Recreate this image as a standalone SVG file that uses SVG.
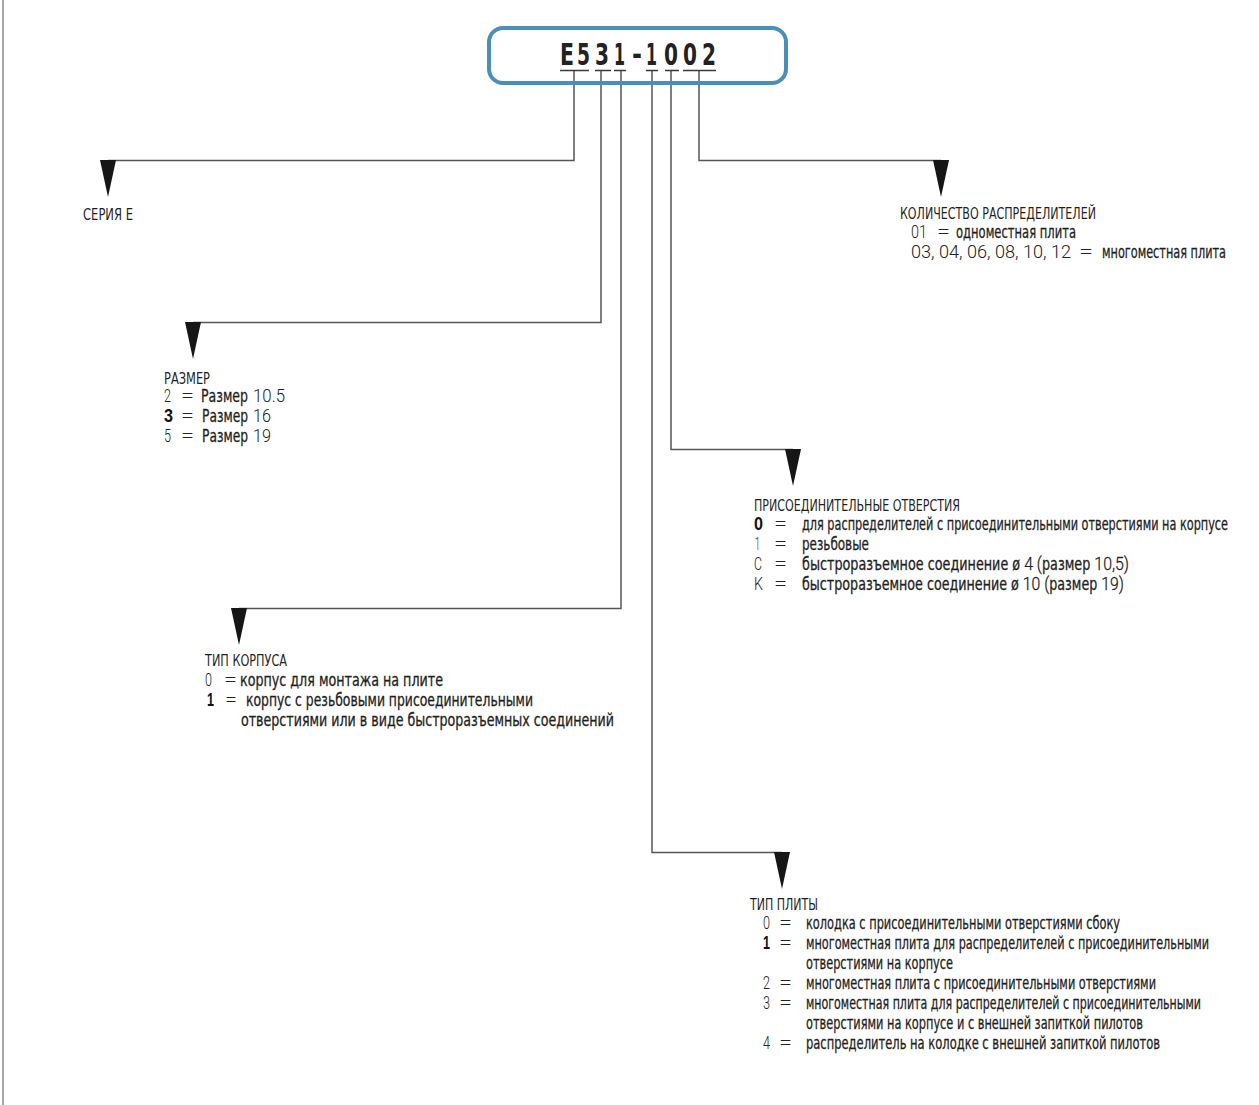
<svg xmlns="http://www.w3.org/2000/svg" width="1259" height="1105" viewBox="0 0 1259 1105">
<style>
text{font-family:'Liberation Sans Narrow','DejaVu Sans Condensed','Liberation Sans',sans-serif;fill:#1f1f1f}
.h{font-size:16px}
.d{font-size:17px;stroke:#1f1f1f;stroke-width:0.3}
.n{font-family:Roboto,'Liberation Sans',sans-serif;font-weight:300;font-size:19px;fill:#222}
.b{font-family:'Liberation Sans Narrow','Liberation Sans',sans-serif;font-weight:bold;font-size:19px;fill:#111}
.t{font-weight:bold;font-size:30px;fill:#222}
.c{fill:none;stroke:#3a3a3a;stroke-width:1.5}
.v{fill:none;stroke:#555;stroke-width:1.5}
.a{fill:#161616}
</style>
<line x1="3" y1="0" x2="3" y2="1105" stroke="#8a8a8a" stroke-width="1.5"/>
<g id="connectors">
<path class="v" d="M574,70V160.5H108"/>
<path class="v" d="M601,70V322.5H193"/>
<path class="v" d="M621,70V608.5H239"/>
<path class="v" d="M652,70V852.5H782"/>
<path class="v" d="M671,70V449.5H793"/>
<path class="v" d="M699,70V160.5H941"/>
<polygon class="a" points="100,160 116,160 108,197"/>
<polygon class="a" points="185,322 201,322 193,359"/>
<polygon class="a" points="231,608 247,608 239,645"/>
<polygon class="a" points="774,852 790,852 782,889"/>
<polygon class="a" points="785,449 801,449 793,486"/>
<polygon class="a" points="933,160 949,160 941,197"/>
</g>
<g id="title">
<rect x="489" y="28" width="297" height="55" rx="14" fill="none" stroke="#4a90b6" stroke-width="4"/>
<text class="t" x="560" y="65" textLength="14" lengthAdjust="spacingAndGlyphs">E</text>
<text class="t" x="577" y="65" textLength="13" lengthAdjust="spacingAndGlyphs">5</text>
<text class="t" x="595" y="65" textLength="14" lengthAdjust="spacingAndGlyphs">3</text>
<text class="t" x="614" y="65" textLength="11" lengthAdjust="spacingAndGlyphs">1</text>
<text class="t" x="632" y="65" textLength="10" lengthAdjust="spacingAndGlyphs">-</text>
<text class="t" x="646" y="65" textLength="11" lengthAdjust="spacingAndGlyphs">1</text>
<text class="t" x="664" y="65" textLength="14" lengthAdjust="spacingAndGlyphs">0</text>
<text class="t" x="683" y="65" textLength="14" lengthAdjust="spacingAndGlyphs">0</text>
<text class="t" x="702" y="65" textLength="14" lengthAdjust="spacingAndGlyphs">2</text>
<path class="c" d="M560,70.5H589M595,70.5H611M614,70.5H626M646,70.5H658M665,70.5H679M683,70.5H716"/>
</g>
<g id="series">
<text class="h" x="83" y="220" textLength="50" lengthAdjust="spacingAndGlyphs">СЕРИЯ E</text>
</g>
<g id="size">
<text class="h" x="164" y="384" textLength="46" lengthAdjust="spacingAndGlyphs">РАЗМЕР</text>
<text class="n" x="164" y="402" textLength="7" lengthAdjust="spacingAndGlyphs">2</text>
<text class="n" x="181" y="402" textLength="13" lengthAdjust="spacingAndGlyphs">=</text>
<text class="d" x="201" y="402" textLength="47" lengthAdjust="spacingAndGlyphs">Размер</text>
<text class="n" x="253" y="402" textLength="32" lengthAdjust="spacingAndGlyphs">10.5</text>
<text class="b" x="164" y="422" textLength="9" lengthAdjust="spacingAndGlyphs">3</text>
<text class="n" x="181" y="422" textLength="13" lengthAdjust="spacingAndGlyphs">=</text>
<text class="d" x="202" y="422" textLength="46" lengthAdjust="spacingAndGlyphs">Размер</text>
<text class="n" x="253" y="422" textLength="18" lengthAdjust="spacingAndGlyphs">16</text>
<text class="n" x="164" y="442" textLength="7" lengthAdjust="spacingAndGlyphs">5</text>
<text class="n" x="181" y="442" textLength="13" lengthAdjust="spacingAndGlyphs">=</text>
<text class="d" x="202" y="442" textLength="46" lengthAdjust="spacingAndGlyphs">Размер</text>
<text class="n" x="253" y="442" textLength="18" lengthAdjust="spacingAndGlyphs">19</text>
</g>
<g id="count">
<text class="h" x="900" y="219" textLength="196" lengthAdjust="spacingAndGlyphs">КОЛИЧЕСТВО РАСПРЕДЕЛИТЕЛЕЙ</text>
<text class="n" x="911" y="238" textLength="16" lengthAdjust="spacingAndGlyphs">01</text>
<text class="n" x="937" y="238" textLength="13" lengthAdjust="spacingAndGlyphs">=</text>
<text class="d" x="956" y="238" textLength="120" lengthAdjust="spacingAndGlyphs">одноместная плита</text>
<text class="n" x="911" y="258" textLength="160" lengthAdjust="spacingAndGlyphs">03, 04, 06, 08, 10, 12</text>
<text class="n" x="1079" y="258" textLength="14" lengthAdjust="spacingAndGlyphs">=</text>
<text class="d" x="1102" y="258" textLength="124" lengthAdjust="spacingAndGlyphs">многоместная плита</text>
</g>
<g id="ports">
<text class="h" x="754" y="511" textLength="206" lengthAdjust="spacingAndGlyphs">ПРИСОЕДИНИТЕЛЬНЫЕ ОТВЕРСТИЯ</text>
<text class="b" x="754" y="530" textLength="9" lengthAdjust="spacingAndGlyphs">0</text>
<text class="n" x="774" y="530" textLength="13" lengthAdjust="spacingAndGlyphs">=</text>
<text class="d" x="802" y="530" textLength="426" lengthAdjust="spacingAndGlyphs">для распределителей с присоединительными отверстиями на корпусе</text>
<text class="n" x="755" y="550" textLength="5" lengthAdjust="spacingAndGlyphs">1</text>
<text class="n" x="774" y="550" textLength="13" lengthAdjust="spacingAndGlyphs">=</text>
<text class="d" x="802" y="550" textLength="67" lengthAdjust="spacingAndGlyphs">резьбовые</text>
<text class="n" x="754" y="570" textLength="8" lengthAdjust="spacingAndGlyphs">C</text>
<text class="n" x="774" y="570" textLength="13" lengthAdjust="spacingAndGlyphs">=</text>
<text class="d" x="802" y="570" textLength="327" lengthAdjust="spacingAndGlyphs">быстроразъемное соединение ø <tspan class="n">4 (</tspan>размер <tspan class="n">10,5)</tspan></text>
<text class="n" x="754" y="590" textLength="9" lengthAdjust="spacingAndGlyphs">K</text>
<text class="n" x="774" y="590" textLength="13" lengthAdjust="spacingAndGlyphs">=</text>
<text class="d" x="802" y="590" textLength="322" lengthAdjust="spacingAndGlyphs">быстроразъемное соединение ø <tspan class="n">10 (</tspan>размер <tspan class="n">19)</tspan></text>
</g>
<g id="body">
<text class="h" x="205" y="666" textLength="82" lengthAdjust="spacingAndGlyphs">ТИП КОРПУСА</text>
<text class="n" x="205" y="686" textLength="7" lengthAdjust="spacingAndGlyphs">0</text>
<text class="n" x="224" y="686" textLength="13" lengthAdjust="spacingAndGlyphs">=</text>
<text class="d" x="240" y="686" textLength="203" lengthAdjust="spacingAndGlyphs">корпус для монтажа на плите</text>
<text class="b" x="207" y="706" textLength="7" lengthAdjust="spacingAndGlyphs">1</text>
<text class="n" x="225" y="706" textLength="12" lengthAdjust="spacingAndGlyphs">=</text>
<text class="d" x="246" y="706" textLength="287" lengthAdjust="spacingAndGlyphs">корпус с резьбовыми присоединительными</text>
<text class="d" x="241" y="726" textLength="373" lengthAdjust="spacingAndGlyphs">отверстиями или в виде быстроразъемных соединений</text>
</g>
<g id="plate">
<text class="h" x="750" y="910" textLength="68" lengthAdjust="spacingAndGlyphs">ТИП ПЛИТЫ</text>
<text class="n" x="763" y="929" textLength="7" lengthAdjust="spacingAndGlyphs">0</text>
<text class="n" x="779" y="929" textLength="13" lengthAdjust="spacingAndGlyphs">=</text>
<text class="d" x="806" y="929" textLength="314" lengthAdjust="spacingAndGlyphs">колодка с присоединительными отверстиями сбоку</text>
<text class="b" x="763" y="949" textLength="7" lengthAdjust="spacingAndGlyphs">1</text>
<text class="n" x="779" y="949" textLength="13" lengthAdjust="spacingAndGlyphs">=</text>
<text class="d" x="806" y="949" textLength="403" lengthAdjust="spacingAndGlyphs">многоместная плита для распределителей с присоединительными</text>
<text class="d" x="806" y="969" textLength="147" lengthAdjust="spacingAndGlyphs">отверстиями на корпусе</text>
<text class="n" x="763" y="989" textLength="7" lengthAdjust="spacingAndGlyphs">2</text>
<text class="n" x="779" y="989" textLength="13" lengthAdjust="spacingAndGlyphs">=</text>
<text class="d" x="806" y="989" textLength="350" lengthAdjust="spacingAndGlyphs">многоместная плита с присоединительными отверстиями</text>
<text class="n" x="763" y="1009" textLength="7" lengthAdjust="spacingAndGlyphs">3</text>
<text class="n" x="779" y="1009" textLength="13" lengthAdjust="spacingAndGlyphs">=</text>
<text class="d" x="806" y="1009" textLength="395" lengthAdjust="spacingAndGlyphs">многоместная плита для распределителей с присоединительными</text>
<text class="d" x="806" y="1029" textLength="337" lengthAdjust="spacingAndGlyphs">отверстиями на корпусе и с внешней запиткой пилотов</text>
<text class="n" x="763" y="1049" textLength="7" lengthAdjust="spacingAndGlyphs">4</text>
<text class="n" x="779" y="1049" textLength="13" lengthAdjust="spacingAndGlyphs">=</text>
<text class="d" x="806" y="1049" textLength="354" lengthAdjust="spacingAndGlyphs">распределитель на колодке с внешней запиткой пилотов</text>
</g>
</svg>
